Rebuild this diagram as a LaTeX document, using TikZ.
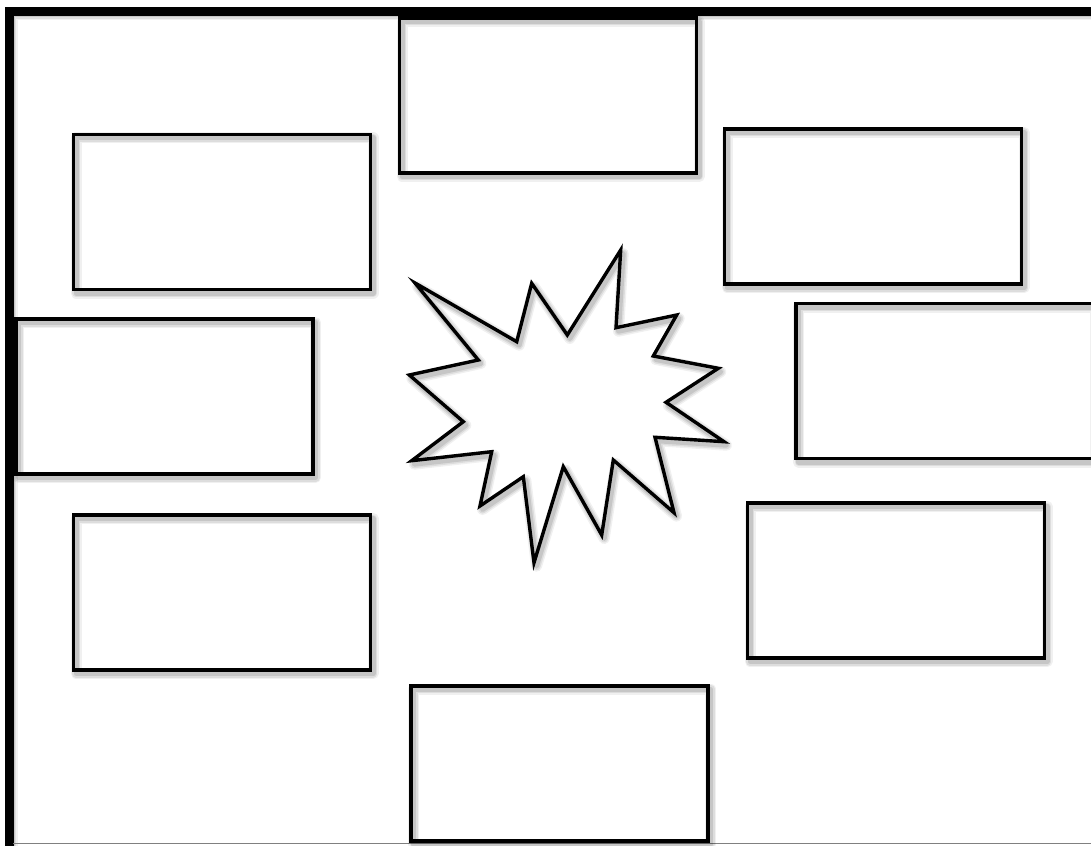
\documentclass[tikz,border=0pt]{standalone}
\tikzset{
  shad/.style={
    preaction={draw=black, opacity=0.06, line width=11pt, line join=round, transform canvas={shift={(2.5pt,-3.5pt)}}},
    preaction={draw=black, opacity=0.08, line width=8pt, line join=round, transform canvas={shift={(2.5pt,-3.5pt)}}},
    preaction={draw=black, opacity=0.10, line width=5pt, line join=round, transform canvas={shift={(2.5pt,-3.5pt)}}}},
  panel/.style={shad, draw=black, line width=3.6pt, minimum width=297pt, minimum height=155pt,
    inner sep=0pt, outer sep=0pt},
  frame/.style={shad, draw=black, line width=8.5pt},
  burst/.style={shad, draw=black, line width=3.4pt, line join=miter, miter limit=12},
}
\begin{document}
\begin{tikzpicture}[x=1pt,y=-1pt]
\useasboundingbox (0,0) rectangle (1091,845);
\clip (0,0) rectangle (1091,845);
\fill[white] (0,0) rectangle (1091,845);
% outer frame
\draw[frame] (9.5,900) -- (9.5,11.3) -- (1150,11.3);
\draw[gray, line width=1.2pt] (13,843.8) -- (1091,843.8);
% boxes
\node[panel] (top)    at (548,95.5) {};
\node[panel] (tr)     at (873,206.5) {};
\node[panel] (tl)     at (222,212) {};
\node[panel] (ml)     at (164.5,396.5) {};
\node[panel] (mr)     at (944.5,381) {};
\node[panel] (bl)     at (222,592.5) {};
\node[panel] (br)     at (896,580.5) {};
\node[panel] (bot)    at (559.7,763.3) {};
% central burst
\draw[burst] (415,283) -- (516.7,341.7) -- (531.7,283.3) -- (567.3,335) -- (620.7,250)
  -- (616,327.7) -- (676.7,315) -- (653.3,356) -- (718.3,368.3) -- (666,402.3)
  -- (724,441.7) -- (655,437.3) -- (674,512.7) -- (613.3,460) -- (601.7,535)
  -- (563.3,466.7) -- (534,562.7) -- (523.3,476.7) -- (480,506) -- (491.7,451.7)
  -- (411.7,460.7) -- (463.3,421.7) -- (409.3,375) -- (478.3,360) -- cycle;
\end{tikzpicture}
\end{document}
